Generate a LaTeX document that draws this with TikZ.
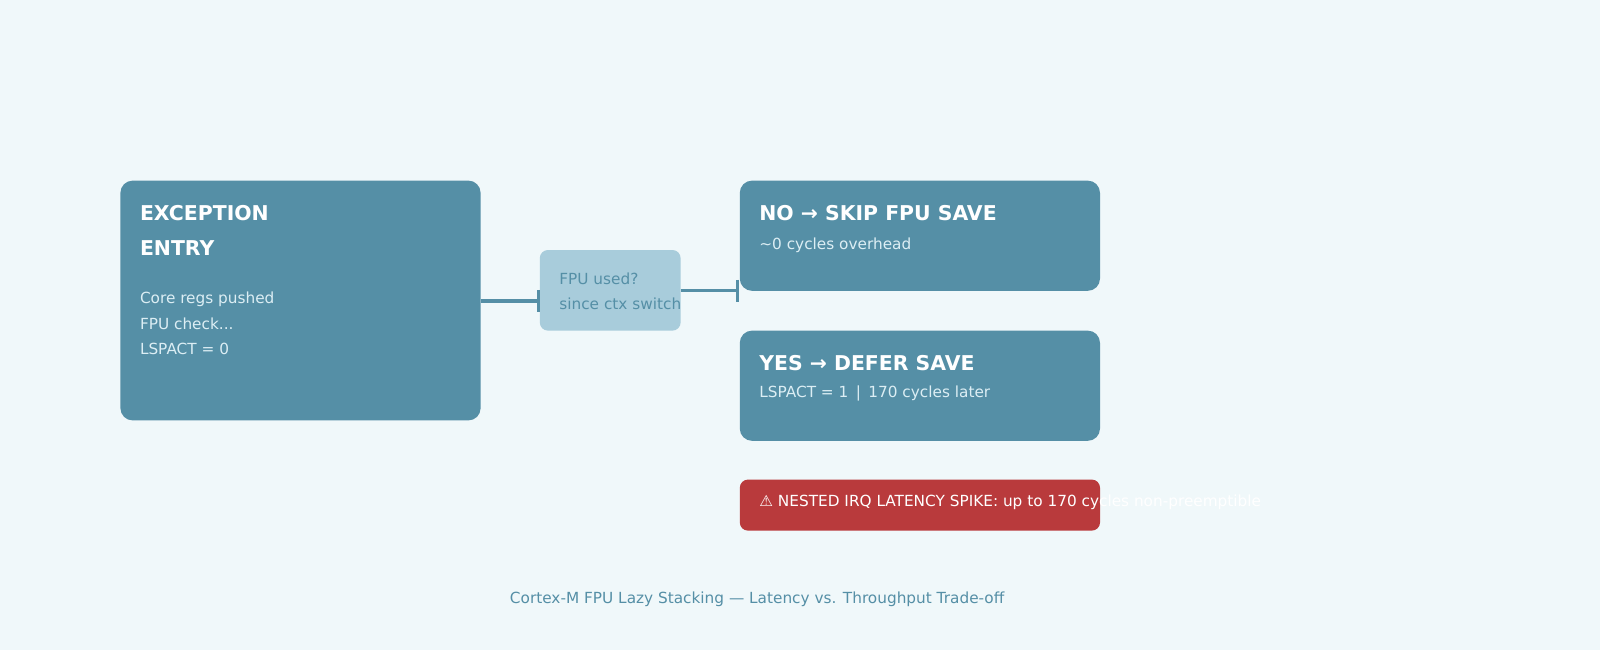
\documentclass[tikz,border=0pt]{standalone}
\usepackage{fontspec}
\setmainfont{DejaVu Sans}
\usetikzlibrary{arrows.meta}
\definecolor{bg}{HTML}{F0F8FA}
\definecolor{teal}{HTML}{558FA6}
\definecolor{light}{HTML}{A8CCDB}
\definecolor{alert}{HTML}{B93A3C}
\definecolor{subt}{HTML}{DCEEF4}
\begin{document}
\begin{tikzpicture}[x=1pt,y=-1pt,
  box/.style={fill=teal,rounded corners=12pt,draw=none},
  ttl/.style={anchor=west,text=white,font=\fontsize{20}{24}\selectfont\bfseries,inner sep=0},
  sub/.style={anchor=west,text=subt,font=\fontsize{15}{18}\selectfont,inner sep=0},
  conn/.style={draw=teal,line width=3pt,-{Bar[width=22pt,line width=3pt]}}]
\useasboundingbox[fill=bg] (0,0) rectangle (1568,637);
\path[box] (118,177) rectangle (471,412);
\node[coordinate] (ex) at (471,295) {};
\node[ttl] (t1) at (137,209) {EXCEPTION};
\node[ttl] (t2) at (137,243) {ENTRY};
\node[sub] (s1) at (137,293) {Core regs pushed};
\node[sub] (s2) at (137,317) {FPU check...};
\node[sub] (s3) at (137,342) {LSPACT = 0};
\path[fill=light,rounded corners=8pt] (529,245) rectangle (667,324);
\node[sub,text=teal] (f1) at (548,273) {FPU used?};
\node[sub,text=teal] (f2) at (548,298) {since ctx switch};
\path[box] (725,177) rectangle (1078,285);
\node[ttl] (n1) at (744,209) {NO → SKIP FPU SAVE};
\node[sub] (n2) at (744,240) {\textasciitilde0 cycles overhead};
\path[box] (725,324) rectangle (1078,432);
\node[ttl] (y1) at (744,356) {YES → DEFER SAVE};
\node[sub] (y2) at (744,386) {LSPACT = 1 \,|\, 170 cycles later};
\path[fill=alert,rounded corners=8pt] (725,470) rectangle (1078,520);
\node[sub,text=white] (r1) at (744,492) {⚠ NESTED IRQ LATENCY SPIKE: up to 170 cycles non-preemptible};
\coordinate (fin) at (529,295);
\coordinate (fout) at (667,285);
\coordinate (nin) at (724,285);
\draw[conn] (ex) -- (fin);
\draw[conn] (fout) -- (nin);
\node[sub,anchor=center,text=teal] (cap) at (742,587) {Cortex-M FPU Lazy Stacking — Latency vs. Throughput Trade-off};
\end{tikzpicture}
\end{document}
